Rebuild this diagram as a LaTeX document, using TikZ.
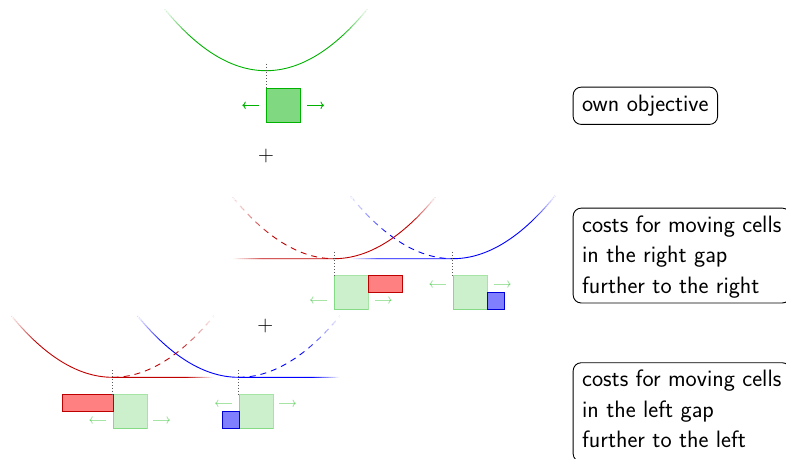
\documentclass[tikz,border=0pt]{standalone}
\usepackage{fontspec}
\usetikzlibrary{arrows.meta}
\definecolor{gr}{rgb}{0,0.7,0}
\colorlet{rd}{red!75!black}
\colorlet{bl}{blue}
% white overlay that fades a parabola y = y0 - 0.006 (x-x0)^2 : invisible at xa, fully visible at xb
\newcommand{\fadepar}[4]{%
  \foreach \i in {0,...,15} {%
    \pgfmathsetmacro\ua{#3+(#4-#3)*\i/16}%
    \pgfmathsetmacro\ub{#3+(#4-#3)*(\i+1)/16}%
    \pgfmathsetmacro\wop{1-(\i+0.5)/16}%
    \draw[white, line width=1.7pt, draw opacity=\wop] plot[domain=\ua:\ub, samples=4] (\x,{#2-0.006*(\x-#1)*(\x-#1)});
  }}
% same for a flat line at height y0
\newcommand{\fadeflat}[3]{%
  \foreach \i in {0,...,15} {%
    \pgfmathsetmacro\ua{#2+(#3-#2)*\i/16}%
    \pgfmathsetmacro\ub{#2+(#3-#2)*(\i+1)/16}%
    \pgfmathsetmacro\wop{1-(\i+0.5)/16}%
    \draw[white, line width=1.7pt, draw opacity=\wop] (\ua,#1) -- (\ub,#1);
  }}
\tikzset{
  curve/.style={line width=0.9pt},
  dashcurve/.style={line width=0.9pt, dash pattern=on 6pt off 5pt},
  dotline/.style={line width=0.9pt, black!65, dash pattern=on 0.9pt off 2pt},
  gsq/.style={draw=gr, fill=gr!50, line width=0.9pt, minimum width=34pt, minimum height=34pt, inner sep=0pt, anchor=north west},
  fsq/.style={draw=gr, draw opacity=0.35, fill=gr, fill opacity=0.2, line width=0.9pt, minimum width=34pt, minimum height=34pt, inner sep=0pt, anchor=north west},
  rrect/.style={draw=rd, fill=red!50, line width=0.9pt, minimum width=34pt, minimum height=17pt, inner sep=0pt, anchor=north west},
  bsq/.style={draw=blue!85!black, fill=blue!50, line width=0.9pt, minimum width=17pt, minimum height=17pt, inner sep=0pt, anchor=north west},
  garrow/.style={draw=gr, line width=0.9pt, -{To[length=3.5pt,width=7.5pt]}},
  farrow/.style={draw=gr, draw opacity=0.35, line width=0.9pt, -{To[length=3.5pt,width=7.5pt]}},
  labelbox/.style={draw, line width=0.9pt, rounded corners=8pt, align=left, anchor=north west,
     inner xsep=9pt, font=\sffamily\fontsize{23.7pt}{30.5pt}\selectfont},
  plus/.style={font=\fontsize{22pt}{26pt}\selectfont}
}
\begin{document}
\begin{tikzpicture}[x=1pt,y=-1pt]
\useasboundingbox (0,0) rectangle (786,458);
\clip (0,0) rectangle (786,458);

% ---------- top: own objective ----------
\coordinate (m0) at (266,70.7);
\draw[curve, gr] plot[domain=165:367, samples=70, smooth] (\x, {70.7-0.006*(\x-266)*(\x-266)});
\fadepar{266}{70.7}{165}{190}
\fadepar{266}{70.7}{367}{342}
\node[gsq] (g0) at (266,88.3) {};
\draw[dotline] ([yshift=7pt]m0) -- (g0.north west);
\draw[garrow] (259,105.3) -- (242.3,105.3);
\draw[garrow] (306.7,105.3) -- (324,105.3);
\node[plus] (p1) at (266,156) {+};

% ---------- middle: right gap ----------
\coordinate (m1) at (334,258.7);
\coordinate (m2) at (452.7,258.7);
\draw[dashcurve, bl] plot[domain=351:452.7, samples=60, smooth] (\x, {258.7-0.006*(\x-452.7)*(\x-452.7)});
\fadepar{452.7}{258.7}{351}{390}
\draw[curve, bl] (351,258.7) -- (452.7,258.7) -- plot[domain=452.7:555, samples=60, smooth] (\x, {258.7-0.006*(\x-452.7)*(\x-452.7)});
\fadeflat{258.7}{351}{378}
\fadepar{452.7}{258.7}{555}{532}
\draw[dashcurve, rd] plot[domain=233:334, samples=60, smooth] (\x, {258.7-0.006*(\x-334)*(\x-334)});
\fadepar{334}{258.7}{233}{272}
\draw[curve, rd] (233,258.7) -- (334,258.7) -- plot[domain=334:435, samples=60, smooth] (\x, {258.7-0.006*(\x-334)*(\x-334)});
\fadeflat{258.7}{233}{262}
\fadepar{334}{258.7}{435}{412}

\node[fsq] (f1) at (334,275.3) {};
\node[rrect] (r1) at (368,275.3) {};
\draw[dotline] ([yshift=7pt]m1) -- (f1.north west);
\draw[farrow] (326.7,300) -- (310,300);
\draw[farrow] (375,300) -- (391.7,300);

\node[fsq] (f2) at (452.7,275.3) {};
\node[bsq] (b2) at (486.7,292.3) {};
\draw[dotline] ([yshift=7pt]m2) -- (f2.north west);
\draw[farrow] (446,284) -- (429.3,284);
\draw[farrow] (494,284) -- (510.7,284);

\node[plus] (p2) at (265.3,326) {+};

% ---------- bottom: left gap ----------
\coordinate (m3) at (112.7,377.3);
\coordinate (m4) at (238.7,377.3);
\draw[dashcurve, rd] plot[domain=112.7:213.7, samples=60, smooth] (\x, {377.3-0.006*(\x-112.7)*(\x-112.7)});
\fadepar{112.7}{377.3}{213.7}{177}
\draw[curve, rd] plot[domain=11.7:112.7, samples=60, smooth] (\x, {377.3-0.006*(\x-112.7)*(\x-112.7)}) -- (213.7,377.3);
\fadepar{112.7}{377.3}{11.7}{36}
\fadeflat{377.3}{213.7}{186}
\draw[dashcurve, bl] plot[domain=238.7:339.7, samples=60, smooth] (\x, {377.3-0.006*(\x-238.7)*(\x-238.7)});
\fadepar{238.7}{377.3}{339.7}{303}
\draw[curve, bl] plot[domain=137.7:238.7, samples=60, smooth] (\x, {377.3-0.006*(\x-238.7)*(\x-238.7)}) -- (339.7,377.3);
\fadepar{238.7}{377.3}{137.7}{162}
\fadeflat{377.3}{339.7}{312}

\node[fsq] (f3) at (112.7,394.3) {};
\node[rrect, minimum width=51pt] (r3) at (61.7,394.3) {};
\draw[dotline] ([yshift=7pt]m3) -- (f3.north west);
\draw[farrow] (106,420) -- (89.3,420);
\draw[farrow] (153.3,420) -- (170,420);

\node[fsq] (f4) at (238.7,394.3) {};
\node[bsq] (b4) at (221.7,411.3) {};
\draw[dotline] ([yshift=7pt]m4) -- (f4.north west);
\draw[farrow] (231.7,403.3) -- (215,403.3);
\draw[farrow] (279.3,403.3) -- (296,403.3);

% ---------- labels ----------
\node[labelbox, inner ysep=8pt] (l1) at (572.7,86.7) {own objective};
\node[labelbox, inner ysep=5pt] (l2) at (572.7,207.7) {\rule{0pt}{19pt}costs for moving cells\\in the right gap\\further to the right};
\node[labelbox, inner ysep=5pt] (l3) at (572.7,362.3) {\rule{0pt}{19pt}costs for moving cells\\in the left gap\\further to the left\rule[-9pt]{0pt}{9pt}};
\end{tikzpicture}
\end{document}
